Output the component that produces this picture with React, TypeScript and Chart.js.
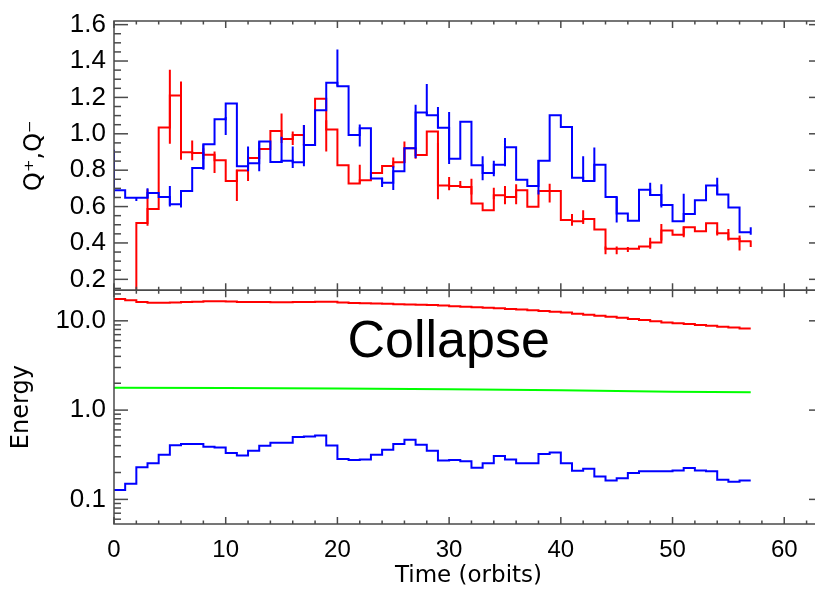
import React, { useEffect, useRef } from 'react';
import { Chart, registerables } from 'chart.js';

Chart.register(...registerables);

// ---------- axis ticks ----------
const X_TICKS = [0, 10, 20, 30, 40, 50, 60];
const Q_TICKS = [0.2, 0.4, 0.6, 0.8, 1.0, 1.2, 1.4, 1.6];
const E_TICKS = [0.1, 1, 10];

// ---------- top panel: Q+, Q- (one value per orbit bin, bins 0..56) ----------
const Q_RED = [
  0.05, 0.05, 0.51, 0.586, 1.035, 1.211, 0.899, 0.894, 0.885, 0.854,
  0.74, 0.798, 0.867, 0.916, 1.015, 0.972, 0.993, 0.939, 1.193, 1.024,
  0.827, 0.727, 0.745, 0.785, 0.823, 0.843, 0.921, 0.883, 1.012, 0.716,
  0.713, 0.707, 0.617, 0.58, 0.662, 0.653, 0.689, 0.599, 0.686, 0.686,
  0.526, 0.519, 0.531, 0.474, 0.368, 0.368, 0.368, 0.381, 0.403, 0.468,
  0.445, 0.486, 0.464, 0.508, 0.454, 0.423, 0.41,
];
const Q_BLUE = [
  0.689, 0.649, 0.649, 0.675, 0.653, 0.613, 0.686, 0.812, 0.943, 1.08,
  1.166, 0.821, 0.838, 0.957, 0.845, 0.852, 0.843, 0.939, 1.129, 1.28,
  1.262, 0.993, 1.03, 0.754, 0.731, 0.794, 0.921, 1.117, 1.102, 1.033,
  0.863, 1.066, 0.827, 0.785, 0.83, 0.926, 0.747, 0.713, 0.852, 1.102,
  1.037, 0.758, 0.74, 0.83, 0.653, 0.562, 0.522, 0.693, 0.664, 0.609,
  0.519, 0.559, 0.635, 0.716, 0.667, 0.595, 0.459,
];

// error bars (time, low, high)
const Q_RED_ERR_X = [3, 5, 6, 7, 8, 9, 11, 12, 15, 16, 17, 19, 22, 25, 26, 27, 29, 30, 31, 32, 34, 35, 36, 39, 41, 42, 44, 45, 46, 48, 49, 51, 54, 55, 56, 57];
const Q_RED_ERR_LO = [0.495, 0.945, 0.858, 0.854, 0.86, 0.785, 0.631, 0.74, 0.95, 0.939, 0.939, 0.903, 0.727, 0.81, 0.839, 0.863, 0.64, 0.689, 0.704, 0.667, 0.64, 0.613, 0.613, 0.622, 0.495, 0.504, 0.338, 0.338, 0.35, 0.368, 0.414, 0.432, 0.441, 0.414, 0.359, 0.378];
const Q_RED_ERR_HI = [0.695, 1.352, 1.287, 0.963, 0.92, 0.903, 0.803, 0.876, 1.111, 1.012, 1.048, 1.075, 0.83, 0.87, 0.957, 0.921, 0.95, 0.762, 0.74, 0.753, 0.704, 0.713, 0.722, 0.725, 0.559, 0.58, 0.381, 0.381, 0.378, 0.428, 0.504, 0.49, 0.468, 0.477, 0.441, 0.414];

const Q_BLUE_ERR_X = [0, 2, 3, 5, 6, 8, 10, 12, 13, 15, 16, 17, 20, 22, 24, 25, 27, 28, 29, 30, 33, 34, 35, 38, 42, 43, 45, 48, 49, 51, 54, 57];
const Q_BLUE_ERR_LO = [0.646, 0.631, 0.646, 0.6, 0.595, 0.803, 0.993, 0.794, 0.794, 0.839, 0.812, 0.821, 1.262, 0.93, 0.707, 0.691, 0.867, 1.102, 1.03, 0.834, 0.745, 0.767, 0.821, 0.667, 0.738, 0.738, 0.513, 0.658, 0.595, 0.522, 0.667, 0.445];
const Q_BLUE_ERR_HI = [0.912, 0.653, 0.7, 0.713, 0.686, 0.943, 1.093, 0.93, 0.957, 0.984, 0.93, 1.048, 1.464, 1.051, 0.758, 0.821, 1.16, 1.274, 1.147, 1.12, 0.876, 0.852, 0.977, 0.856, 0.876, 0.925, 0.653, 0.731, 0.722, 0.671, 0.758, 0.486];

// ---------- bottom panel: Energy (bins 0..56) ----------
const E_RED = [
  17.6, 17.0, 16.2, 15.9, 15.9, 16.0, 16.2, 16.4, 16.6, 16.6,
  16.5, 16.3, 16.2, 16.2, 16.1, 16.1, 16.2, 16.3, 16.4, 16.4,
  16.0, 15.8, 15.7, 15.6, 15.5, 15.3, 15.2, 15.1, 15.0, 14.8,
  14.6, 14.4, 14.2, 14.0, 13.8, 13.6, 13.4, 13.1, 12.9, 12.6,
  12.4, 12.0, 11.7, 11.4, 11.1, 10.8, 10.5, 10.2, 9.9, 9.6,
  9.4, 9.2, 9.0, 8.8, 8.6, 8.4, 8.2,
];
const E_BLUE = [
  0.127, 0.15, 0.229, 0.254, 0.316, 0.405, 0.416, 0.416, 0.388, 0.381,
  0.331, 0.311, 0.351, 0.398, 0.43, 0.43, 0.5, 0.505, 0.518, 0.401,
  0.284, 0.277, 0.28, 0.316, 0.36, 0.416, 0.467, 0.408, 0.351, 0.272,
  0.277, 0.267, 0.226, 0.254, 0.306, 0.279, 0.254, 0.254, 0.322, 0.336,
  0.254, 0.209, 0.22, 0.181, 0.163, 0.173, 0.197, 0.207, 0.207, 0.207,
  0.21, 0.224, 0.21, 0.207, 0.166, 0.158, 0.163,
];
const E_GREEN_X = [0, 10, 20, 30, 40, 50, 57];
const E_GREEN = [1.78, 1.77, 1.75, 1.71, 1.67, 1.61, 1.58];

const X_MAX = 63.47;
const COLLAPSE_X = 20.9;
const COLLAPSE_Y = 3.93;

const RED = '#ff0000';
const BLUE = '#0000ff';
const GREEN = '#00ff00';
const FRAME = '#4a4a4a';

const stepPoints = (vals: number[]) => {
  const pts = vals.map((y, i) => ({ x: i, y }));
  pts.push({ x: vals.length, y: vals[vals.length - 1] });
  return pts;
};
const errPoints = (xs: number[], lo: number[], hi: number[]) =>
  xs.flatMap((x, i) => [
    { x, y: lo[i] },
    { x, y: hi[i] },
    { x, y: null as any },
  ]);

const rangeTicks = (a: number, b: number, step: number) => {
  const out: number[] = [];
  for (let v = a; v <= b + 1e-9; v += step) out.push(Math.round(v * 1000) / 1000);
  return out;
};

const framePlugin = {
  id: 'idlFrame',
  afterDatasetsDraw(chart: any) {
    const ctx = chart.ctx;
    const xs = chart.scales.x;
    const yq = chart.scales.yQ;
    const ye = chart.scales.yE;
    const left = xs.left;
    const right = xs.right;
    ctx.save();
    ctx.strokeStyle = FRAME;
    ctx.lineWidth = 1.5;
    const line = (x1: number, y1: number, x2: number, y2: number) => {
      ctx.beginPath();
      ctx.moveTo(x1, y1);
      ctx.lineTo(x2, y2);
      ctx.stroke();
    };
    const xAll = rangeTicks(0, 62, 2);
    const qMinor = rangeTicks(0.15, 1.6, 0.05);
    const eMinor: number[] = [];
    [0.01, 0.1, 1, 10].forEach((d) => {
      for (let k = 1; k <= 9; k++) eMinor.push(d * k);
    });
    const panels = [
      { s: yq, minor: qMinor, major: Q_TICKS },
      { s: ye, minor: eMinor, major: E_TICKS },
    ];
    for (const p of panels) {
      const top = p.s.top;
      const bottom = p.s.bottom;
      ctx.strokeRect(left, top, right - left, bottom - top);
      for (const v of xAll) {
        const px = xs.getPixelForValue(v);
        const len = v % 10 === 0 ? 7 : 3.5;
        line(px, bottom, px, bottom - len);
        line(px, top, px, top + len);
      }
      for (const v of p.minor) {
        const py = p.s.getPixelForValue(v);
        if (py < top + 0.5 || py > bottom - 0.5) continue;
        const isMajor = p.major.some((m) => Math.abs(m - v) < 1e-6);
        const len = isMajor ? 14 : 7;
        line(left, py, left + len, py);
        line(right, py, right - len, py);
      }
    }
    ctx.fillStyle = '#000';
    ctx.font = '52px "Liberation Sans", Arial, sans-serif';
    ctx.textAlign = 'left';
    ctx.textBaseline = 'alphabetic';
    ctx.fillText('Collapse', xs.getPixelForValue(COLLAPSE_X), ye.getPixelForValue(COLLAPSE_Y));
    ctx.restore();
  },
};

export default function App() {
  const ref = useRef<HTMLCanvasElement | null>(null);
  useEffect(() => {
    if (!ref.current) return;
    const lineBase = { pointRadius: 0, borderWidth: 2, fill: false, tension: 0, spanGaps: false };
    const chart = new Chart(ref.current, {
      type: 'line',
      data: {
        datasets: [
          { ...lineBase, label: 'Q- err', data: errPoints(Q_BLUE_ERR_X, Q_BLUE_ERR_LO, Q_BLUE_ERR_HI), borderColor: BLUE, yAxisID: 'yQ', xAxisID: 'x' },
          { ...lineBase, label: 'Q-', data: stepPoints(Q_BLUE), borderColor: BLUE, stepped: 'before', yAxisID: 'yQ', xAxisID: 'x' },
          { ...lineBase, label: 'Q+ err', data: errPoints(Q_RED_ERR_X, Q_RED_ERR_LO, Q_RED_ERR_HI), borderColor: RED, yAxisID: 'yQ', xAxisID: 'x' },
          { ...lineBase, label: 'Q+', data: stepPoints(Q_RED), borderColor: RED, stepped: 'before', yAxisID: 'yQ', xAxisID: 'x' },
          { ...lineBase, label: 'E red', data: stepPoints(E_RED), borderColor: RED, stepped: 'before', yAxisID: 'yE', xAxisID: 'x' },
          { ...lineBase, label: 'E green', data: E_GREEN_X.map((x, i) => ({ x, y: E_GREEN[i] })), borderColor: GREEN, yAxisID: 'yE', xAxisID: 'x' },
          { ...lineBase, label: 'E blue', data: stepPoints(E_BLUE), borderColor: BLUE, stepped: 'before', yAxisID: 'yE', xAxisID: 'x' },
        ] as any,
      },
      options: {
        responsive: false,
        animation: false,
        devicePixelRatio: 1,
        layout: { padding: { left: 0, right: 7, top: 14, bottom: 0 } },
        plugins: { legend: { display: false }, tooltip: { enabled: false } },
        scales: {
          x: {
            type: 'linear',
            position: 'bottom',
            min: 0,
            max: X_MAX,
            afterBuildTicks: (s: any) => {
              s.ticks = X_TICKS.map((v) => ({ value: v }));
            },
            afterFit: (s: any) => {
              s.height = 66;
            },
            grid: { display: false, drawTicks: false },
            border: { display: false },
            ticks: {
              autoSkip: false,
              maxRotation: 0,
              padding: 12,
              color: '#000',
              font: { family: 'Liberation Sans', size: 24 },
              callback: (v: any) => String(v),
            },
            title: {
              display: true,
              text: 'Time (orbits)',
              color: '#000',
              font: { family: 'DejaVu Sans', size: 23 },
              padding: { top: 0, bottom: 0 },
            },
          },
          yE: {
            type: 'logarithmic',
            position: 'left',
            stack: 'panels',
            stackWeight: 237,
            min: 0.053,
            max: 22,
            afterBuildTicks: (s: any) => {
              s.ticks = E_TICKS.map((v) => ({ value: v }));
            },
            afterFit: (s: any) => {
              s.width = 114;
            },
            grid: { display: false, drawTicks: false },
            border: { display: false },
            ticks: {
              autoSkip: false,
              padding: 8,
              color: '#000',
              font: { family: 'Liberation Sans', size: 26, lineHeight: 1 },
              callback: (v: any) => Number(v).toFixed(1),
            },
            title: {
              display: true,
              text: 'Energy',
              color: '#000',
              font: { family: 'DejaVu Sans', size: 24 },
              padding: { top: 7, bottom: 0 },
            },
          },
          yQ: {
            type: 'linear',
            position: 'left',
            stack: 'panels',
            stackWeight: 273,
            min: 0.14,
            max: 1.62,
            afterBuildTicks: (s: any) => {
              s.ticks = Q_TICKS.map((v) => ({ value: v }));
            },
            afterFit: (s: any) => {
              s.width = 114;
            },
            grid: { display: false, drawTicks: false },
            border: { display: false },
            ticks: {
              autoSkip: false,
              padding: 8,
              color: '#000',
              font: { family: 'Liberation Sans', size: 26, lineHeight: 1 },
              callback: (v: any) => Number(v).toFixed(1),
            },
            title: {
              display: true,
              text: 'Q\u207A,Q\u207B',
              color: '#000',
              font: { family: 'DejaVu Sans', size: 24 },
              padding: { top: 20, bottom: 0 },
            },
          },
        } as any,
      },
      plugins: [framePlugin],
    });
    return () => chart.destroy();
  }, []);

  return (
    <div style={{ position: 'fixed', left: 0, top: 0, width: 815, height: 590, overflow: 'hidden', background: '#fff' }}>
      <canvas ref={ref} width={830} height={590} style={{ width: 830, height: 590, display: 'block' }} />
    </div>
  );
}
